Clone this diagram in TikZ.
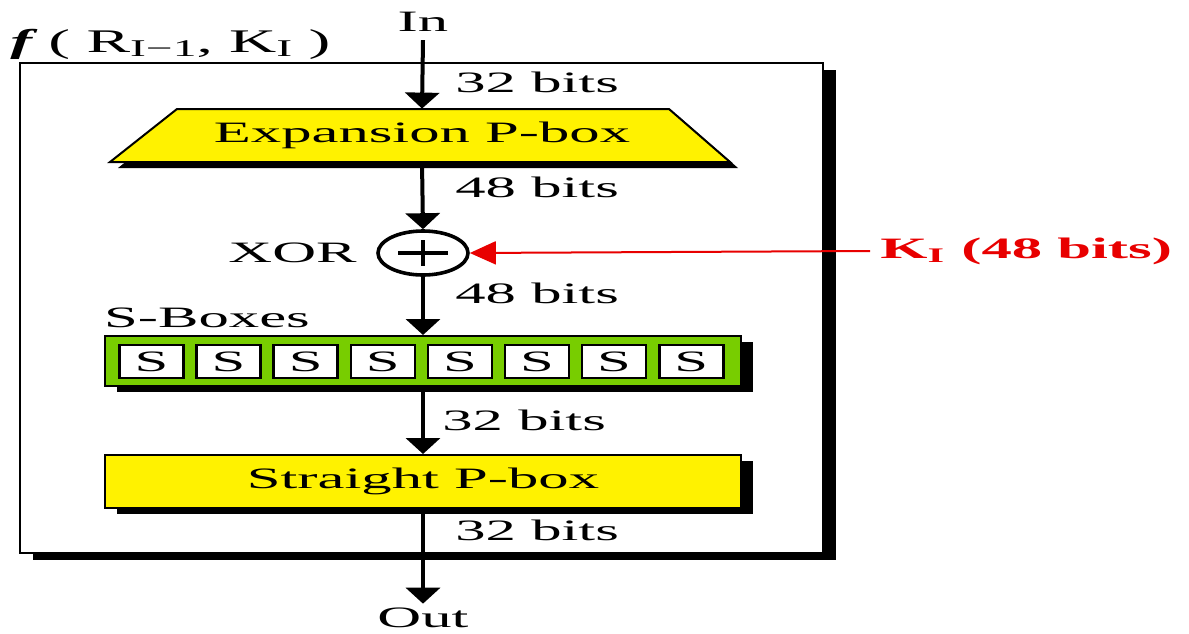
\documentclass[tikz,border=0pt]{standalone}
\usepackage{fontspec}
\setmainfont{Liberation Serif}
\usepackage{graphicx}
\usetikzlibrary{arrows.meta,shadows,shapes.geometric}
\definecolor{sgreen}{RGB}{120,205,0}
\definecolor{kred}{RGB}{232,0,0}
\newcommand{\sx}[1]{\scalebox{2.05}[1]{#1}}
\newcommand{\bigsub}[1]{\raisebox{-0.3ex}{\fontsize{12}{13}\selectfont #1}}
\begin{document}
\begin{tikzpicture}[x=0.5pt,y=-0.5pt,
  font=\fontsize{14.8}{17}\selectfont,
  txt/.style={inner sep=0pt},
  arr/.style={line width=2pt,-{Triangle[width=17pt,length=8pt]}},
  karr/.style={kred,line width=1pt,-{Triangle[width=11.5pt,length=13pt]}},
  shad/.style={general shadow={fill=black,shadow xshift=6pt,shadow yshift=-3pt}},
  pbox/.style={draw,line width=1pt,fill=yellow,inner sep=0pt,shad},
  sbox/.style={draw,line width=1.3pt,fill=white,inner sep=0pt,minimum width=32pt,minimum height=16.5pt}]
\useasboundingbox (0,0) rectangle (1189,633);
% frame
\node[draw,line width=1.2pt,fill=white,inner sep=0pt,minimum width=401.5pt,minimum height=245pt,
  general shadow={fill=black,shadow xshift=6.5pt,shadow yshift=-3.5pt}] (frame) at (421.5,308) {};
\node[txt,anchor=west,font=\fontsize{16.5}{19}\selectfont] (title) at (10,44)
  {\scalebox{1.98}[1]{\textbf{\textit{f}}\,( R\bigsub{I−1}, K\bigsub{I} )}};
% expansion P-box
\fill (118,168) -- (185,115) -- (677,115) -- (738,168) -- cycle;
\draw[fill=yellow,line width=1pt] (110,162) -- (177,109) -- (669,109) -- (730,162) -- cycle;
\node[txt,minimum width=310pt,minimum height=26.5pt] (exp) at (422,135.5) {\sx{Expansion P-box}};
% XOR
\node[draw,ellipse,line width=1.8pt,inner sep=0pt,minimum width=45pt,minimum height=22pt] (xor) at (423,253) {};
\draw[line width=2pt] ([xshift=-12.5pt]xor.center) -- ([xshift=12.5pt]xor.center);
\draw[line width=2pt] ([yshift=6.5pt]xor.center) -- ([yshift=-6.5pt]xor.center);
\node[txt,anchor=east] (xorl) at (357,253) {\sx{XOR}};
% S-boxes
\node[pbox,fill=sgreen,minimum width=318pt,minimum height=25pt] (sb) at (423,361) {};
\foreach \i in {1,...,8}{
  \node[sbox] (s\i) at ({151.5+77.1*(\i-1)},361.5) {\sx{S}};
}
\node[txt] (sbl) at (207,318) {\sx{S-Boxes}};
% straight P-box
\node[pbox,minimum width=318pt,minimum height=26.5pt] (sp) at (423,481.5) {\sx{Straight P-box}};
% in / out
\node[txt] (in) at (423,22) {\sx{In}};
\node[txt] (out) at (423,618) {\sx{Out}};
% bits labels
\node[txt,anchor=west] (b1) at (455,82) {\sx{32 bits}};
\node[txt,anchor=west] (b2) at (455,187) {\sx{48 bits}};
\node[txt,anchor=west] (b3) at (455,293) {\sx{48 bits}};
\node[txt,anchor=west] (b4) at (442,420) {\sx{32 bits}};
\node[txt,anchor=west] (b5) at (455,530) {\sx{32 bits}};
% key
\node[txt,anchor=west,text=kred] (key) at (880,251) {\sx{\textbf{K\textsubscript{I} (48 bits)}}};
% connectors
\draw[arr] ([yshift=-4pt]in.south) -- (exp.north);
\draw[arr] (exp.south) -- (xor.north);
\draw[arr] (xor.south) -- (sb.north);
\draw[arr] (sb.south) -- (sp.north);
\draw[arr] (sp.south) -- ([yshift=2pt]out.north);
\draw[karr] ([xshift=-5pt]key.west) -- (xor.east);
\end{tikzpicture}
\end{document}
